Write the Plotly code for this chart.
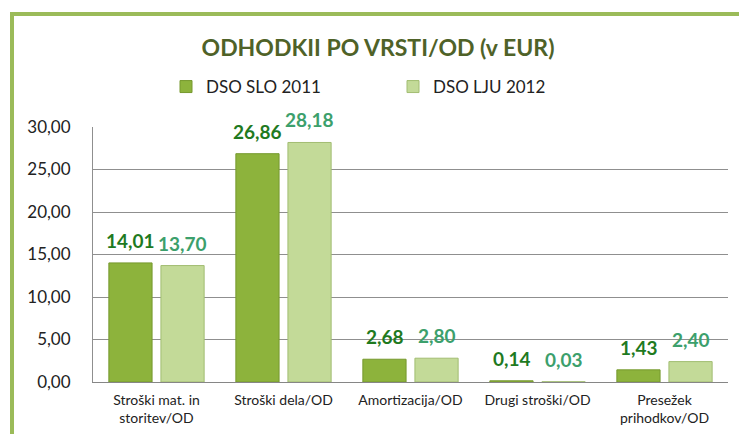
import plotly.graph_objects as go

categories = ["Stroški mat. in<br>storitev/OD", "Stroški dela/OD", "Amortizacija/OD",
              "Drugi stroški/OD", "Presežek<br>prihodkov/OD"]
slo_2011 = [14.01, 26.86, 2.68, 0.14, 1.43]
lju_2012 = [13.70, 28.18, 2.80, 0.03, 2.40]
tick_vals = [0, 5, 10, 15, 20, 25, 30]

FONT = "Lato"
SLO_LABEL = "#1f7a1f"
LJU_LABEL = "#3ca06c"

# browser body margin offsets the figure by 8px
OFF = 8
W, H = 747 - OFF, 434 - OFF
L, R, T, B = 93 - OFF, W - (728 - OFF), 127 - OFF, H - (382 - OFF)
pw, ph = W - L - R, H - T - B


def px(x):
    return (x - OFF - L) / pw


def py(y):
    return (H - B - (y - OFF)) / ph


fig = go.Figure()
fig.add_trace(go.Bar(
    name="DSO SLO 2011", x=categories, y=slo_2011,
    marker=dict(color="#8db33c", line=dict(color="#76992e", width=1)),
    cliponaxis=False,
))
fig.add_trace(go.Bar(
    name="DSO LJU 2012", x=categories, y=lju_2012,
    marker=dict(color="#c3da98", line=dict(color="#a2bd72", width=1)),
    cliponaxis=False,
))


def fmt(v):
    return f"{v:.2f}".replace(".", ",")


for vals, shift, col in ((slo_2011, -26, SLO_LABEL), (lju_2012, 26, LJU_LABEL)):
    for c, v in zip(categories, vals):
        fig.add_annotation(x=c, y=v, text=f"<b>{fmt(v)}</b>", showarrow=False,
                           xshift=shift, yshift=9, yanchor="bottom",
                           font=dict(family=FONT, size=19, color=col))

fig.update_layout(
    width=W, height=H,
    margin=dict(l=L, r=R, t=T, b=B, autoexpand=False),
    paper_bgcolor="white", plot_bgcolor="white",
    separators=",.",
    barmode="group", bargap=0.18, bargroupgap=0.17,
    font=dict(family=FONT, size=15, color="#222222"),
    title=dict(text="<b>ODHODKII PO VRSTI/OD (v EUR)</b>",
               font=dict(family=FONT, size=23, color="#4f6228"),
               x=px(378), xanchor="center", xref="paper",
               y=1 - (48 - OFF) / H, yref="container", yanchor="middle"),
    legend=dict(orientation="h", x=px(166), y=py(87), xanchor="left", yanchor="middle",
                font=dict(family=FONT, size=17, color="#222222"),
                entrywidth=182, entrywidthmode="pixels",
                bgcolor="rgba(0,0,0,0)", itemclick=False, itemdoubleclick=False),
    showlegend=True,
)
fig.update_xaxes(showline=True, linecolor="#868686", linewidth=1,
                 tickfont=dict(family=FONT, size=14, color="#222222"),
                 ticks="", showgrid=False, ticklabelstandoff=5)
fig.update_yaxes(range=[0, 30], tickvals=tick_vals, tickformat=".2f",
                 showgrid=True, gridcolor="#8f8f8f", gridwidth=1,
                 showline=True, linecolor="#8f8f8f", linewidth=1,
                 zeroline=False, ticks="", ticklabelstandoff=18,
                 tickfont=dict(family=FONT, size=17, color="#222222"))

# outer green frame
fig.add_shape(type="rect", xref="paper", yref="paper",
              x0=px(12), x1=px(742), y0=py(450), y1=py(14),
              line=dict(color="#9bbb59", width=4), fillcolor="rgba(0,0,0,0)", layer="below")

fig.write_html("out.html")
